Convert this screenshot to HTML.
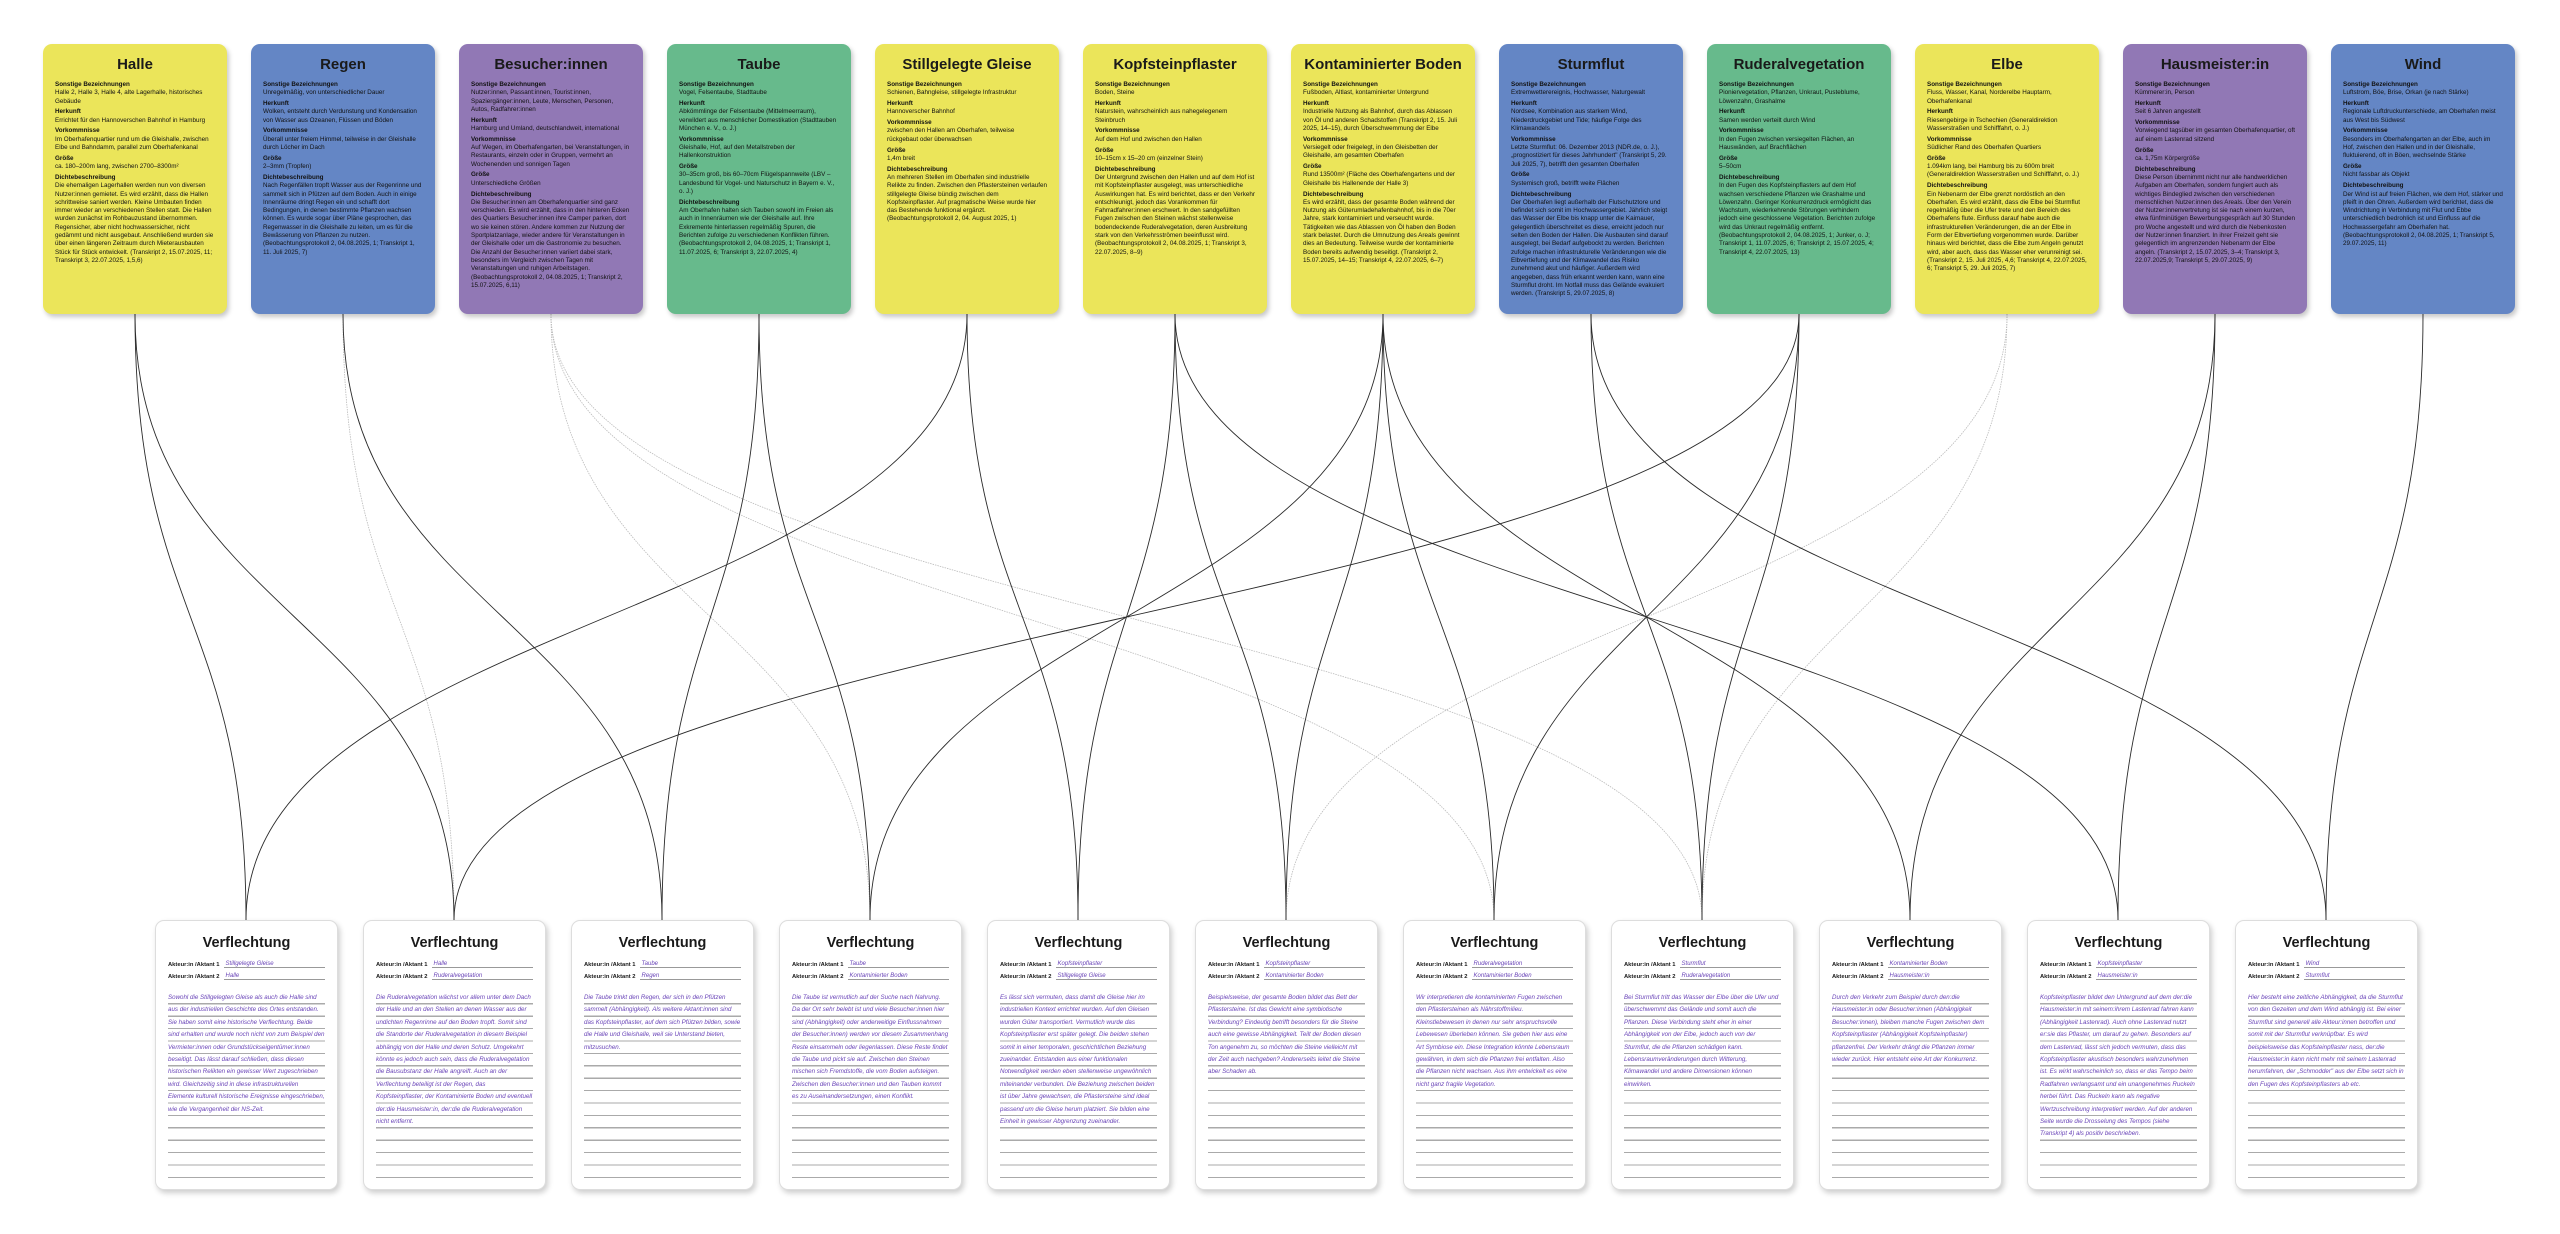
<!DOCTYPE html>
<html><head><meta charset="utf-8">
<style>
*{margin:0;padding:0;box-sizing:border-box}
body{width:2560px;height:1234px;background:#fff;position:relative;overflow:hidden;font-family:"Liberation Sans","DejaVu Sans",sans-serif;color:#1a1a1a}
svg{position:absolute;left:0;top:0}
.t{position:absolute;top:44px;width:184px;height:270px;border-radius:9px;padding:0 12px;box-shadow:2px 3px 5px rgba(0,0,0,.22);overflow:hidden}
.t h2{font-size:15px;text-align:center;margin-top:12px;margin-bottom:8px;font-weight:bold;letter-spacing:0;white-space:nowrap}
.t p{font-size:6.3px;line-height:8.3px;margin-bottom:2.5px;color:#111}
.t b{display:block}
.y{background:#ebe55a}.bl{background:#6486c5}.pu{background:#9178b5}.gr{background:#67ba8c}
.v{position:absolute;top:920px;width:183px;height:270px;border-radius:9px;background:#fff;border:1px solid #ddd;box-shadow:2px 3px 6px rgba(0,0,0,.2);padding:0 12px}
.v h3{font-size:14.5px;text-align:center;margin-top:14px;font-weight:bold;height:18px}
.r{display:flex;font-size:5.8px;font-weight:bold;height:12.5px;align-items:flex-end;margin-top:0}
.r span{flex:1;border-bottom:1px solid #999;margin-left:4px;color:#6a45b8;font-weight:normal;font-style:italic;font-size:6px;padding-left:2px}
.r:first-of-type{margin-top:2px}
.bd{margin-top:12px;font-size:6.2px;line-height:12.4px;color:#6a45b8;font-style:italic;background:repeating-linear-gradient(to bottom,transparent 0,transparent 11.2px,#aaa 11.2px,#aaa 12.4px);height:186px;overflow:hidden}
</style></head><body>
<svg width="2560" height="1234" viewBox="0 0 2560 1234">
<g fill="none" stroke="#bbb" stroke-width="0.8" stroke-dasharray="1.5 1">
<path d="M343 314 C343 617 454 617 454 920"/>
<path d="M551 314 C551 617 870 617 870 920"/>
<path d="M551 314 C551 617 1494 617 1494 920"/>
<path d="M551 314 C551 617 1702 617 1702 920"/>
<path d="M2007 314 C2007 617 1286 617 1286 920"/>
<path d="M2007 314 C2007 617 1702 617 1702 920"/>
</g>
<g fill="none" stroke="#2a2a2a" stroke-width="0.9">
<path d="M967 314 C967 617 246 617 246 920"/>
<path d="M135 314 C135 617 246 617 246 920"/>
<path d="M135 314 C135 617 454 617 454 920"/>
<path d="M1799 314 C1799 617 454 617 454 920"/>
<path d="M759 314 C759 617 662 617 662 920"/>
<path d="M343 314 C343 617 662 617 662 920"/>
<path d="M759 314 C759 617 870 617 870 920"/>
<path d="M1383 314 C1383 617 870 617 870 920"/>
<path d="M1175 314 C1175 617 1078 617 1078 920"/>
<path d="M967 314 C967 617 1078 617 1078 920"/>
<path d="M1175 314 C1175 617 1286 617 1286 920"/>
<path d="M1383 314 C1383 617 1286 617 1286 920"/>
<path d="M1799 314 C1799 617 1494 617 1494 920"/>
<path d="M1383 314 C1383 617 1494 617 1494 920"/>
<path d="M1591 314 C1591 617 1702 617 1702 920"/>
<path d="M1799 314 C1799 617 1702 617 1702 920"/>
<path d="M1383 314 C1383 617 1910 617 1910 920"/>
<path d="M2215 314 C2215 617 1910 617 1910 920"/>
<path d="M1175 314 C1175 617 2118 617 2118 920"/>
<path d="M2215 314 C2215 617 2118 617 2118 920"/>
<path d="M2423 314 C2423 617 2326 617 2326 920"/>
<path d="M1591 314 C1591 617 2326 617 2326 920"/>
</g>
</svg>

<div class="t y" style="left:43px"><h2>Halle</h2>
<p><b>Sonstige Bezeichnungen</b>Halle 2, Halle 3, Halle 4, alte Lagerhalle, historisches Gebäude</p>
<p><b>Herkunft</b>Errichtet für den Hannoverschen Bahnhof in Hamburg</p>
<p><b>Vorkommnisse</b>Im Oberhafenquartier rund um die Gleishalle, zwischen Elbe und Bahndamm, parallel zum Oberhafenkanal</p>
<p><b>Größe</b>ca. 180–200m lang, zwischen 2700–8300m²</p>
<p><b>Dichtebeschreibung</b>Die ehemaligen Lagerhallen werden nun von diversen Nutzer:innen gemietet. Es wird erzählt, dass die Hallen schrittweise saniert werden. Kleine Umbauten finden immer wieder an verschiedenen Stellen statt. Die Hallen wurden zunächst im Rohbauzustand übernommen. Regensicher, aber nicht hochwassersicher, nicht gedämmt und nicht ausgebaut. Anschließend wurden sie über einen längeren Zeitraum durch Mieterausbauten Stück für Stück entwickelt. (Transkript 2, 15.07.2025, 11; Transkript 3, 22.07.2025, 1,5,6)</p></div>

<div class="t bl" style="left:251px"><h2>Regen</h2>
<p><b>Sonstige Bezeichnungen</b>Unregelmäßig, von unterschiedlicher Dauer</p>
<p><b>Herkunft</b>Wolken, entsteht durch Verdunstung und Kondensation von Wasser aus Ozeanen, Flüssen und Böden</p>
<p><b>Vorkommnisse</b>Überall unter freiem Himmel, teilweise in der Gleishalle durch Löcher im Dach</p>
<p><b>Größe</b>2–3mm (Tropfen)</p>
<p><b>Dichtebeschreibung</b>Nach Regenfällen tropft Wasser aus der Regenrinne und sammelt sich in Pfützen auf dem Boden. Auch in einige Innenräume dringt Regen ein und schafft dort Bedingungen, in denen bestimmte Pflanzen wachsen können. Es wurde sogar über Pläne gesprochen, das Regenwasser in die Gleishalle zu leiten, um es für die Bewässerung von Pflanzen zu nutzen. (Beobachtungsprotokoll 2, 04.08.2025, 1; Transkript 1, 11. Juli 2025, 7)</p></div>

<div class="t pu" style="left:459px"><h2>Besucher:innen</h2>
<p><b>Sonstige Bezeichnungen</b>Nutzer:innen, Passant:innen, Tourist:innen, Spaziergänger:innen, Leute, Menschen, Personen, Autos, Radfahrer:innen</p>
<p><b>Herkunft</b>Hamburg und Umland, deutschlandweit, international</p>
<p><b>Vorkommnisse</b>Auf Wegen, im Oberhafengarten, bei Veranstaltungen, in Restaurants, einzeln oder in Gruppen, vermehrt an Wochenenden und sonnigen Tagen</p>
<p><b>Größe</b>Unterschiedliche Größen</p>
<p><b>Dichtebeschreibung</b>Die Besucher:innen am Oberhafenquartier sind ganz verschieden. Es wird erzählt, dass in den hinteren Ecken des Quartiers Besucher:innen ihre Camper parken, dort wo sie keinen stören. Andere kommen zur Nutzung der Sportplatzanlage, wieder andere für Veranstaltungen in der Gleishalle oder um die Gastronomie zu besuchen. Die Anzahl der Besucher:innen variiert dabei stark, besonders im Vergleich zwischen Tagen mit Veranstaltungen und ruhigen Arbeitstagen. (Beobachtungsprotokoll 2, 04.08.2025, 1; Transkript 2, 15.07.2025, 6,11)</p></div>

<div class="t gr" style="left:667px"><h2>Taube</h2>
<p><b>Sonstige Bezeichnungen</b>Vogel, Felsentaube, Stadttaube</p>
<p><b>Herkunft</b>Abkömmlinge der Felsentaube (Mittelmeerraum), verwildert aus menschlicher Domestikation (Stadttauben München e. V., o. J.)</p>
<p><b>Vorkommnisse</b>Gleishalle, Hof, auf den Metallstreben der Hallenkonstruktion</p>
<p><b>Größe</b>30–35cm groß, bis 60–70cm Flügelspannweite (LBV – Landesbund für Vogel- und Naturschutz in Bayern e. V., o. J.)</p>
<p><b>Dichtebeschreibung</b>Am Oberhafen halten sich Tauben sowohl im Freien als auch in Innenräumen wie der Gleishalle auf. Ihre Exkremente hinterlassen regelmäßig Spuren, die Berichten zufolge zu verschiedenen Konflikten führen. (Beobachtungsprotokoll 2, 04.08.2025, 1; Transkript 1, 11.07.2025, 6; Transkript 3, 22.07.2025, 4)</p></div>

<div class="t y" style="left:875px"><h2>Stillgelegte Gleise</h2>
<p><b>Sonstige Bezeichnungen</b>Schienen, Bahngleise, stillgelegte Infrastruktur</p>
<p><b>Herkunft</b>Hannoverscher Bahnhof</p>
<p><b>Vorkommnisse</b>zwischen den Hallen am Oberhafen, teilweise rückgebaut oder überwachsen</p>
<p><b>Größe</b>1,4m breit</p>
<p><b>Dichtebeschreibung</b>An mehreren Stellen im Oberhafen sind industrielle Relikte zu finden. Zwischen den Pflastersteinen verlaufen stillgelegte Gleise bündig zwischen dem Kopfsteinpflaster. Auf pragmatische Weise wurde hier das Bestehende funktional ergänzt. (Beobachtungsprotokoll 2, 04. August 2025, 1)</p></div>

<div class="t y" style="left:1083px"><h2>Kopfsteinpflaster</h2>
<p><b>Sonstige Bezeichnungen</b>Boden, Steine</p>
<p><b>Herkunft</b>Naturstein, wahrscheinlich aus nahegelegenem Steinbruch</p>
<p><b>Vorkommnisse</b>Auf dem Hof und zwischen den Hallen</p>
<p><b>Größe</b>10–15cm x 15–20 cm (einzelner Stein)</p>
<p><b>Dichtebeschreibung</b>Der Untergrund zwischen den Hallen und auf dem Hof ist mit Kopfsteinpflaster ausgelegt, was unterschiedliche Auswirkungen hat. Es wird berichtet, dass er den Verkehr entschleunigt, jedoch das Vorankommen für Fahrradfahrer:innen erschwert. In den sandgefüllten Fugen zwischen den Steinen wächst stellenweise bodendeckende Ruderalvegetation, deren Ausbreitung stark von den Verkehrsströmen beeinflusst wird. (Beobachtungsprotokoll 2, 04.08.2025, 1; Transkript 3, 22.07.2025, 8–9)</p></div>

<div class="t y" style="left:1291px"><h2>Kontaminierter Boden</h2>
<p><b>Sonstige Bezeichnungen</b>Fußboden, Altlast, kontaminierter Untergrund</p>
<p><b>Herkunft</b>Industrielle Nutzung als Bahnhof, durch das Ablassen von Öl und anderen Schadstoffen (Transkript 2, 15. Juli 2025, 14–15), durch Überschwemmung der Elbe</p>
<p><b>Vorkommnisse</b>Versiegelt oder freigelegt, in den Gleisbetten der Gleishalle, am gesamten Oberhafen</p>
<p><b>Größe</b>Rund 13500m² (Fläche des Oberhafengartens und der Gleishalle bis Hallenende der Halle 3)</p>
<p><b>Dichtebeschreibung</b>Es wird erzählt, dass der gesamte Boden während der Nutzung als Güterumladehafenbahnhof, bis in die 70er Jahre, stark kontaminiert und verseucht wurde. Tätigkeiten wie das Ablassen von Öl haben den Boden stark belastet. Durch die Umnutzung des Areals gewinnt dies an Bedeutung. Teilweise wurde der kontaminierte Boden bereits aufwendig beseitigt. (Transkript 2, 15.07.2025, 14–15; Transkript 4, 22.07.2025, 6–7)</p></div>

<div class="t bl" style="left:1499px"><h2>Sturmflut</h2>
<p><b>Sonstige Bezeichnungen</b>Extremwetterereignis, Hochwasser, Naturgewalt</p>
<p><b>Herkunft</b>Nordsee, Kombination aus starkem Wind, Niederdruckgebiet und Tide; häufige Folge des Klimawandels</p>
<p><b>Vorkommnisse</b>Letzte Sturmflut: 06. Dezember 2013 (NDR.de, o. J.), „prognostiziert für dieses Jahrhundert" (Transkript 5, 29. Juli 2025, 7), betrifft den gesamten Oberhafen</p>
<p><b>Größe</b>Systemisch groß, betrifft weite Flächen</p>
<p><b>Dichtebeschreibung</b>Der Oberhafen liegt außerhalb der Flutschutztore und befindet sich somit im Hochwassergebiet. Jährlich steigt das Wasser der Elbe bis knapp unter die Kaimauer, gelegentlich überschreitet es diese, erreicht jedoch nur selten den Boden der Hallen. Die Ausbauten sind darauf ausgelegt, bei Bedarf aufgebockt zu werden. Berichten zufolge machen infrastrukturelle Veränderungen wie die Elbvertiefung und der Klimawandel das Risiko zunehmend akut und häufiger. Außerdem wird angegeben, dass früh erkannt werden kann, wann eine Sturmflut droht. Im Notfall muss das Gelände evakuiert werden. (Transkript 5, 29.07.2025, 8)</p></div>

<div class="t gr" style="left:1707px"><h2>Ruderalvegetation</h2>
<p><b>Sonstige Bezeichnungen</b>Pioniervegetation, Pflanzen, Unkraut, Pusteblume, Löwenzahn, Grashalme</p>
<p><b>Herkunft</b>Samen werden verteilt durch Wind</p>
<p><b>Vorkommnisse</b>In den Fugen zwischen versiegelten Flächen, an Hauswänden, auf Brachflächen</p>
<p><b>Größe</b>5–50cm</p>
<p><b>Dichtebeschreibung</b>In den Fugen des Kopfsteinpflasters auf dem Hof wachsen verschiedene Pflanzen wie Grashalme und Löwenzahn. Geringer Konkurrenzdruck ermöglicht das Wachstum, wiederkehrende Störungen verhindern jedoch eine geschlossene Vegetation. Berichten zufolge wird das Unkraut regelmäßig entfernt. (Beobachtungsprotokoll 2, 04.08.2025, 1; Junker, o. J; Transkript 1, 11.07.2025, 6; Transkript 2, 15.07.2025, 4; Transkript 4, 22.07.2025, 13)</p></div>

<div class="t y" style="left:1915px"><h2>Elbe</h2>
<p><b>Sonstige Bezeichnungen</b>Fluss, Wasser, Kanal, Norderelbe Hauptarm, Oberhafenkanal</p>
<p><b>Herkunft</b>Riesengebirge in Tschechien (Generaldirektion Wasserstraßen und Schifffahrt, o. J.)</p>
<p><b>Vorkommnisse</b>Südlicher Rand des Oberhafen Quartiers</p>
<p><b>Größe</b>1.094km lang, bei Hamburg bis zu 600m breit (Generaldirektion Wasserstraßen und Schifffahrt, o. J.)</p>
<p><b>Dichtebeschreibung</b>Ein Nebenarm der Elbe grenzt nordöstlich an den Oberhafen. Es wird erzählt, dass die Elbe bei Sturmflut regelmäßig über die Ufer trete und den Bereich des Oberhafens flute. Einfluss darauf habe auch die infrastrukturellen Veränderungen, die an der Elbe in Form der Elbvertiefung vorgenommen wurde. Darüber hinaus wird berichtet, dass die Elbe zum Angeln genutzt wird, aber auch, dass das Wasser eher verunreinigt sei. (Transkript 2, 15. Juli 2025, 4,6; Transkript 4, 22.07.2025, 6; Transkript 5, 29. Juli 2025, 7)</p></div>

<div class="t pu" style="left:2123px"><h2>Hausmeister:in</h2>
<p><b>Sonstige Bezeichnungen</b>Kümmerer:in, Person</p>
<p><b>Herkunft</b>Seit 6 Jahren angestellt</p>
<p><b>Vorkommnisse</b>Vorwiegend tagsüber im gesamten Oberhafenquartier, oft auf einem Lastenrad sitzend</p>
<p><b>Größe</b>ca. 1,75m Körpergröße</p>
<p><b>Dichtebeschreibung</b>Diese Person übernimmt nicht nur alle handwerklichen Aufgaben am Oberhafen, sondern fungiert auch als wichtiges Bindeglied zwischen den verschiedenen menschlichen Nutzer:innen des Areals. Über den Verein der Nutzer:innenvertretung ist sie nach einem kurzen, etwa fünfminütigen Bewerbungsgespräch auf 30 Stunden pro Woche angestellt und wird durch die Nebenkosten der Nutzer:innen finanziert. In ihrer Freizeit geht sie gelegentlich im angrenzenden Nebenarm der Elbe angeln. (Transkript 2, 15.07.2025, 3–4; Transkript 3, 22.07.2025,9; Transkript 5, 29.07.2025, 9)</p></div>

<div class="t bl" style="left:2331px"><h2>Wind</h2>
<p><b>Sonstige Bezeichnungen</b>Luftstrom, Böe, Brise, Orkan (je nach Stärke)</p>
<p><b>Herkunft</b>Regionale Luftdruckunterschiede, am Oberhafen meist aus West bis Südwest</p>
<p><b>Vorkommnisse</b>Besonders im Oberhafengarten an der Elbe, auch im Hof, zwischen den Hallen und in der Gleishalle, fluktuierend, oft in Böen, wechselnde Stärke</p>
<p><b>Größe</b>Nicht fassbar als Objekt</p>
<p><b>Dichtebeschreibung</b>Der Wind ist auf freien Flächen, wie dem Hof, stärker und pfeift in den Ohren. Außerdem wird berichtet, dass die Windrichtung in Verbindung mit Flut und Ebbe unterschiedlich bedrohlich ist und Einfluss auf die Hochwassergefahr am Oberhafen hat. (Beobachtungsprotokoll 2, 04.08.2025, 1; Transkript 5, 29.07.2025, 11)</p></div>

<div class="v" style="left:155px"><h3>Verflechtung</h3>
<div class="r">Akteur:in /Aktant 1<span>Stillgelegte Gleise</span></div><div class="r">Akteur:in /Aktant 2<span>Halle</span></div>
<div class="bd">Sowohl die Stillgelegten Gleise als auch die Halle sind aus der industriellen Geschichte des Ortes entstanden. Sie haben somit eine historische Verflechtung. Beide sind erhalten und wurde noch nicht von zum Beispiel den Vermieter:innen oder Grundstückseigentümer:innen beseitigt. Das lässt darauf schließen, dass diesen historischen Relikten ein gewisser Wert zugeschrieben wird. Gleichzeitig sind in diese infrastrukturellen Elemente kulturell historische Ereignisse eingeschrieben, wie die Vergangenheit der NS-Zeit.</div></div>

<div class="v" style="left:363px"><h3>Verflechtung</h3>
<div class="r">Akteur:in /Aktant 1<span>Halle</span></div><div class="r">Akteur:in /Aktant 2<span>Ruderalvegetation</span></div>
<div class="bd">Die Ruderalvegetation wächst vor allem unter dem Dach der Halle und an den Stellen an denen Wasser aus der undichten Regenrinne auf den Boden tropft. Somit sind die Standorte der Ruderalvegetation in diesem Beispiel abhängig von der Halle und deren Schutz. Umgekehrt könnte es jedoch auch sein, dass die Ruderalvegetation die Bausubstanz der Halle angreift. Auch an der Verflechtung beteiligt ist der Regen, das Kopfsteinpflaster, der Kontaminierte Boden und eventuell der:die Hausmeister:in, der:die die Ruderalvegetation nicht entfernt.</div></div>

<div class="v" style="left:571px"><h3>Verflechtung</h3>
<div class="r">Akteur:in /Aktant 1<span>Taube</span></div><div class="r">Akteur:in /Aktant 2<span>Regen</span></div>
<div class="bd">Die Taube trinkt den Regen, der sich in den Pfützen sammelt (Abhängigkeit). Als weitere Aktant:innen sind das Kopfsteinpflaster, auf dem sich Pfützen bilden, sowie die Halle und Gleishalle, weil sie Unterstand bieten, mitzusuchen.</div></div>

<div class="v" style="left:779px"><h3>Verflechtung</h3>
<div class="r">Akteur:in /Aktant 1<span>Taube</span></div><div class="r">Akteur:in /Aktant 2<span>Kontaminierter Boden</span></div>
<div class="bd">Die Taube ist vermutlich auf der Suche nach Nahrung. Da der Ort sehr belebt ist und viele Besucher:innen hier sind (Abhängigkeit) oder anderweitige Einflussnahmen der Besucher:innen) werden vor diesem Zusammenhang Reste einsammeln oder liegenlassen. Diese Reste findet die Taube und pickt sie auf. Zwischen den Steinen mischen sich Fremdstoffe, die vom Boden aufsteigen. Zwischen den Besucher:innen und den Tauben kommt es zu Auseinandersetzungen, einen Konflikt.</div></div>

<div class="v" style="left:987px"><h3>Verflechtung</h3>
<div class="r">Akteur:in /Aktant 1<span>Kopfsteinpflaster</span></div><div class="r">Akteur:in /Aktant 2<span>Stillgelegte Gleise</span></div>
<div class="bd">Es lässt sich vermuten, dass damit die Gleise hier im industriellen Kontext errichtet wurden. Auf den Gleisen wurden Güter transportiert. Vermutlich wurde das Kopfsteinpflaster erst später gelegt. Die beiden stehen somit in einer temporalen, geschichtlichen Beziehung zueinander. Entstanden aus einer funktionalen Notwendigkeit werden eben stellenweise ungewöhnlich miteinander verbunden. Die Beziehung zwischen beiden ist über Jahre gewachsen, die Pflastersteine sind ideal passend um die Gleise herum platziert. Sie bilden eine Einheit in gewisser Abgrenzung zueinander.</div></div>

<div class="v" style="left:1195px"><h3>Verflechtung</h3>
<div class="r">Akteur:in /Aktant 1<span>Kopfsteinpflaster</span></div><div class="r">Akteur:in /Aktant 2<span>Kontaminierter Boden</span></div>
<div class="bd">Beispielsweise, der gesamte Boden bildet das Bett der Pflastersteine. Ist das Gewicht eine symbiotische Verbindung? Eindeutig betrifft besonders für die Steine auch eine gewisse Abhängigkeit. Teilt der Boden diesen Ton angenehm zu, so möchten die Steine vielleicht mit der Zeit auch nachgeben? Andererseits leitet die Steine aber Schaden ab.</div></div>

<div class="v" style="left:1403px"><h3>Verflechtung</h3>
<div class="r">Akteur:in /Aktant 1<span>Ruderalvegetation</span></div><div class="r">Akteur:in /Aktant 2<span>Kontaminierter Boden</span></div>
<div class="bd">Wir interpretieren die kontaminierten Fugen zwischen den Pflastersteinen als Nährstoffmilieu. Kleinstlebewesen in denen nur sehr anspruchsvolle Lebewesen überleben können. Sie geben hier aus eine Art Symbiose ein. Diese Integration könnte Lebensraum gewähren, in dem sich die Pflanzen frei entfalten. Also die Pflanzen nicht wachsen. Aus ihm entwickelt es eine nicht ganz fragile Vegetation.</div></div>

<div class="v" style="left:1611px"><h3>Verflechtung</h3>
<div class="r">Akteur:in /Aktant 1<span>Sturmflut</span></div><div class="r">Akteur:in /Aktant 2<span>Ruderalvegetation</span></div>
<div class="bd">Bei Sturmflut tritt das Wasser der Elbe über die Ufer und überschwemmt das Gelände und somit auch die Pflanzen. Diese Verbindung steht eher in einer Abhängigkeit von der Elbe, jedoch auch von der Sturmflut, die die Pflanzen schädigen kann. Lebensraumveränderungen durch Witterung, Klimawandel und andere Dimensionen können einwirken.</div></div>

<div class="v" style="left:1819px"><h3>Verflechtung</h3>
<div class="r">Akteur:in /Aktant 1<span>Kontaminierter Boden</span></div><div class="r">Akteur:in /Aktant 2<span>Hausmeister:in</span></div>
<div class="bd">Durch den Verkehr zum Beispiel durch den:die Hausmeister:in oder Besucher:innen (Abhängigkeit Besucher:innen), bleiben manche Fugen zwischen dem Kopfsteinpflaster (Abhängigkeit Kopfsteinpflaster) pflanzenfrei. Der Verkehr drängt die Pflanzen immer wieder zurück. Hier entsteht eine Art der Konkurrenz.</div></div>

<div class="v" style="left:2027px"><h3>Verflechtung</h3>
<div class="r">Akteur:in /Aktant 1<span>Kopfsteinpflaster</span></div><div class="r">Akteur:in /Aktant 2<span>Hausmeister:in</span></div>
<div class="bd">Kopfsteinpflaster bildet den Untergrund auf dem der:die Hausmeister:in mit seinem:ihrem Lastenrad fahren kann (Abhängigkeit Lastenrad). Auch ohne Lastenrad nutzt er:sie das Pflaster, um darauf zu gehen. Besonders auf dem Lastenrad, lässt sich jedoch vermuten, dass das Kopfsteinpflaster akustisch besonders wahrzunehmen ist. Es wirkt wahrscheinlich so, dass er das Tempo beim Radfahren verlangsamt und ein unangenehmes Ruckeln herbei führt. Das Ruckeln kann als negative Wertzuschreibung interpretiert werden. Auf der anderen Seite wurde die Drosselung des Tempos (siehe Transkript 4) als positiv beschrieben.</div></div>

<div class="v" style="left:2235px"><h3>Verflechtung</h3>
<div class="r">Akteur:in /Aktant 1<span>Wind</span></div><div class="r">Akteur:in /Aktant 2<span>Sturmflut</span></div>
<div class="bd">Hier besteht eine zeitliche Abhängigkeit, da die Sturmflut von den Gezeiten und dem Wind abhängig ist. Bei einer Sturmflut sind generell alle Akteur:innen betroffen und somit mit der Sturmflut verknüpfbar. Es wird beispielsweise das Kopfsteinpflaster nass, der:die Hausmeister:in kann nicht mehr mit seinem Lastenrad herumfahren, der „Schmodder" aus der Elbe setzt sich in den Fugen des Kopfsteinpflasters ab etc.</div></div>
</body></html>
